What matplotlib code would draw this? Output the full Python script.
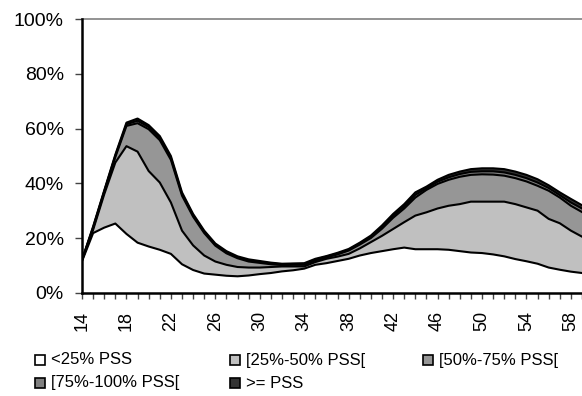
import matplotlib
matplotlib.use("Agg")
import matplotlib.pyplot as plt
from matplotlib.patches import Rectangle
import numpy as np

plt.rcParams['font.family'] = ['Liberation Sans', 'DejaVu Sans']

ages = list(range(14, 60))

# cumulative upper boundaries (%) of each band
lt25 = [11.5, 21.8, 23.8, 25.3, 21.5, 18.3, 16.9, 15.7, 14.2, 10.4, 8.3, 7.0, 6.6, 6.2, 6.0, 6.3,
        6.8, 7.2, 7.8, 8.2, 8.8, 10.2, 10.8, 11.6, 12.4, 13.6, 14.5, 15.2, 15.9, 16.5, 15.9, 15.9,
        15.9, 15.7, 15.2, 14.7, 14.5, 14.0, 13.3, 12.3, 11.5, 10.6, 9.2, 8.4, 7.7, 7.2]
to50 = [11.8, 23.0, 36.0, 47.6, 53.6, 51.6, 44.5, 40.3, 33.0, 22.7, 17.3, 13.6, 11.4, 10.2, 9.4, 9.2,
        9.2, 9.4, 9.6, 9.6, 9.6, 11.2, 12.4, 13.2, 14.2, 16.2, 18.5, 20.8, 23.3, 25.8, 28.2, 29.4,
        30.8, 31.8, 32.4, 33.3, 33.3, 33.3, 33.3, 32.4, 31.2, 30.0, 27.0, 25.4, 22.7, 20.5]
to75 = [11.9, 23.6, 36.8, 49.6, 61.0, 62.0, 59.8, 55.8, 48.6, 35.5, 27.8, 21.8, 17.2, 14.4, 12.6, 11.4,
        10.9, 10.4, 10.1, 10.2, 10.2, 11.8, 12.9, 14.0, 15.4, 17.6, 20.0, 23.4, 27.4, 30.8, 34.8, 37.6,
        39.8, 41.3, 42.4, 43.1, 43.3, 43.2, 42.8, 41.9, 40.7, 39.1, 37.3, 34.8, 31.8, 29.5]
to100 = [11.95, 23.9, 37.1, 50.1, 61.6, 62.9, 60.6, 56.6, 49.3, 36.1, 28.3, 22.3, 17.6, 14.8, 13.0, 11.8,
         11.3, 10.7, 10.4, 10.5, 10.5, 12.1, 13.2, 14.3, 15.7, 18.0, 20.5, 24.0, 28.1, 31.6, 35.8, 38.2,
         40.6, 42.2, 43.4, 44.2, 44.4, 44.4, 44.0, 43.1, 41.9, 40.3, 38.3, 35.7, 33.0, 30.8]
total = [12.0, 24.2, 37.4, 50.5, 62.2, 63.7, 61.3, 57.3, 50.0, 36.7, 28.8, 22.7, 18.0, 15.2, 13.3, 12.2,
         11.6, 11.0, 10.6, 10.7, 10.8, 12.4, 13.4, 14.6, 16.0, 18.3, 20.9, 24.6, 28.8, 32.4, 36.7, 38.8,
         41.3, 43.1, 44.3, 45.2, 45.5, 45.5, 45.2, 44.3, 43.1, 41.5, 39.3, 36.7, 34.3, 32.0]

labels = ['<25% PSS', '[25%-50% PSS[', '[50%-75% PSS[', '[75%-100% PSS[', '>= PSS']
colors = ['#FFFFFF', '#C0C0C0', '#969696', '#808080', '#333333']

fig = plt.figure(figsize=(5.82, 3.96), dpi=100)
ax = fig.add_axes([82/582, (396-292.7)/396, 1 - 82/582, (292.7-19.3)/396])

x = np.array(ages)
bounds = [np.zeros(len(x)), np.array(lt25), np.array(to50), np.array(to75), np.array(to100), np.array(total)]
for i in range(5):
    ax.fill_between(x, bounds[i], bounds[i+1], facecolor=colors[i], edgecolor='none', zorder=2)
for i in range(1, 6):
    ax.plot(x, bounds[i], color='black', lw=1.5, zorder=3, solid_joinstyle='round')

ax.axhline(100, color='#808080', lw=1.2, zorder=1, clip_on=False)

ax.set_xlim(14, 14 + (582 - 82) / 11.16)
ax.set_ylim(0, 100)
ax.set_yticks([0, 20, 40, 60, 80, 100])
ax.set_yticklabels(['0%', '20%', '40%', '60%', '80%', '100%'], fontsize=14)
ax.set_xticks(ages, minor=True)
ax.set_xticks(list(range(14, 60, 4)))
ax.set_xticklabels([str(v) for v in range(14, 60, 4)], rotation=90, fontsize=13)
ax.tick_params(axis='y', length=5, width=1, pad=8, color='#444444')
ax.tick_params(axis='x', which='both', length=4, width=1, pad=9, color='#444444')
for s in ['top', 'right']:
    ax.spines[s].set_visible(False)
ax.spines['left'].set_linewidth(1.8)
ax.spines['bottom'].set_linewidth(1.8)
ax.spines['left'].set_zorder(4)
ax.spines['bottom'].set_zorder(4)

# legend laid out manually in three columns
W, H = 582, 396
pos = [(35, 360), (230, 360), (423, 360), (35, 383), (230, 383)]
for (px, py), lab, col in zip(pos, labels, colors):
    r = Rectangle((px / W, (H - py - 5) / H), 10 / W, 10 / H, transform=fig.transFigure,
                  facecolor=col, edgecolor='black', lw=1.2)
    fig.add_artist(r)
    fig.text((px + 16) / W, (H - py) / H, lab, fontsize=12, va='center', ha='left')

fig.savefig('out.png', dpi=100)
